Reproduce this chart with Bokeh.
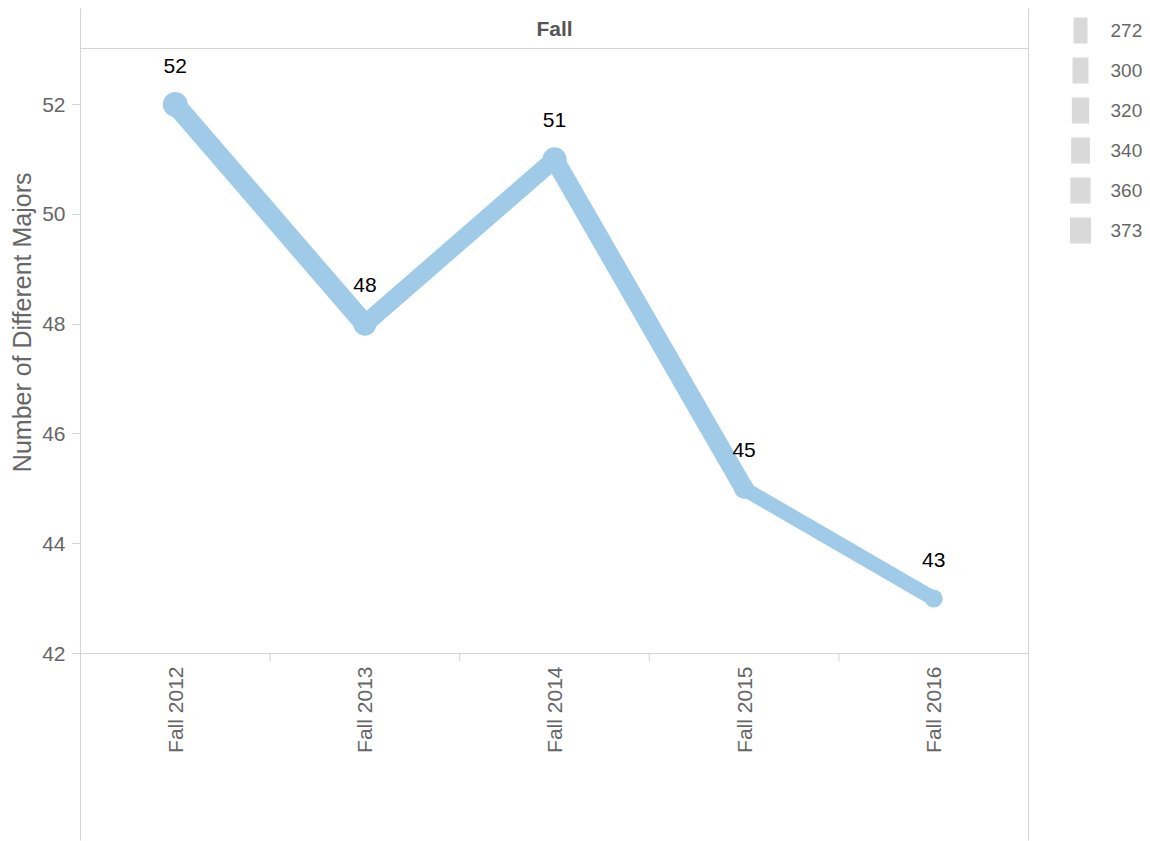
import numpy as np
from bokeh.plotting import figure
from bokeh.models import (Range1d, FixedTicker, LinearAxis, Span, ColumnDataSource, Title)
from bokeh.layouts import row
from bokeh.embed import file_html
from bokeh.resources import INLINE
from bokeh.core.properties import value

# ---------------- data ----------------
terms = ["Fall 2012", "Fall 2013", "Fall 2014", "Fall 2015", "Fall 2016"]
majors = [52, 48, 51, 45, 43]
students = [373, 345, 360, 300, 272]
y_ticks = [42, 44, 46, 48, 50, 52]
legend_values = [272, 300, 320, 340, 360, 373]
header = "Fall"
y_title = "Number of Different Majors"

# ---------------- style ----------------
FONT = "Liberation Sans"
BLUE = "#a0cbe8"
RULE = "#d4d4d4"
TXT = "#666666"
FS = "21px"

s_lo, s_hi = legend_values[0], legend_values[-1]


def line_w(s):
    return 13 + (s - s_lo) * 7.0 / (s_hi - s_lo)


def legend_w(s):
    return 14 + (s - s_lo) * 7.0 / (s_hi - s_lo)


xs = [i + 0.5 for i in range(len(terms))]
bounds = [i for i in range(1, len(terms))]

# vertical layout (pixels): pane top 8, header rule 48, axis 653, pane bottom 840
PX_PER_UNIT = 54.9
y_base = y_ticks[0]
y_hi = y_base + (653 - 8) / PX_PER_UNIT
y_lo = y_base - (840 - 653) / PX_PER_UNIT

W_MAIN = 1044
H_MAIN = 841
p = figure(width=W_MAIN, height=H_MAIN,
           x_range=Range1d(0, len(terms)), y_range=Range1d(y_lo, y_hi),
           output_backend="svg", toolbar_location=None,
           x_axis_type=None, y_axis_type=None,
           min_border_left=80, min_border_right=W_MAIN - 1028,
           min_border_top=8, min_border_bottom=H_MAIN - 840)
p.outline_line_color = None
p.background_fill_color = "white"
p.border_fill_color = "white"

# y axis (its line runs the full pane height)
yax = LinearAxis(ticker=FixedTicker(ticks=y_ticks))
yax.axis_line_color = RULE
yax.major_tick_line_color = RULE
yax.major_tick_out = 8
yax.major_tick_in = 0
yax.minor_tick_line_color = None
yax.major_label_text_font = FONT
yax.major_label_text_font_size = FS
yax.major_label_text_color = TXT
yax.major_label_standoff = 7
p.add_layout(yax, "left")

# y axis title, anchored so it is centred on the value pane
ytitle = Title(text=y_title, align="right", offset=164,
               text_font=FONT, text_font_size="25px", text_font_style="normal",
               text_color=TXT, standoff=8)
p.add_layout(ytitle, "left")

# x axis labels, lifted up to sit just under the value axis baseline
xax = LinearAxis(ticker=FixedTicker(ticks=xs))
xax.major_label_overrides = {x: t for x, t in zip(xs, terms)}
xax.major_label_orientation = np.pi / 2
xax.axis_line_color = None
xax.major_tick_out = 0
xax.major_tick_in = 0
xax.major_tick_line_color = None
xax.minor_tick_line_color = None
xax.major_label_text_font = FONT
xax.major_label_text_font_size = FS
xax.major_label_text_color = TXT
xax.major_label_standoff = 666 - 840
p.add_layout(xax, "below")

# right border
rax = LinearAxis(ticker=FixedTicker(ticks=[]))
rax.axis_line_color = RULE
rax.major_tick_out = 0
rax.minor_tick_out = 0
rax.major_label_text_font_size = "0px"
p.add_layout(rax, "right")

# baseline rule and category boundary ticks
p.add_layout(Span(location=y_base, dimension="width", line_color=RULE, line_width=1))
p.segment(x0=bounds, x1=bounds, y0=[y_base] * len(bounds),
          y1=[y_base - 8 / PX_PER_UNIT] * len(bounds), line_color=RULE, line_width=1)

# header row
p.add_layout(Span(location=y_base + (653 - 48) / PX_PER_UNIT, dimension="width",
                  line_color=RULE, line_width=1))
p.text(x=[len(terms) / 2], y=[y_base + (653 - 28) / PX_PER_UNIT], text=[header],
       text_align="center", text_baseline="middle", text_font=value(FONT),
       text_font_size=FS, text_font_style="bold", text_color="#555555")

# line segments with size-encoded widths
seg = ColumnDataSource(dict(x0=xs[:-1], x1=xs[1:], y0=majors[:-1], y1=majors[1:],
                            w=[line_w(s) for s in students[:-1]]))
p.segment(x0="x0", y0="y0", x1="x1", y1="y1", line_width="w", line_color=BLUE,
          line_cap="round", source=seg)
p.scatter(x=xs, y=majors, size=[line_w(s) + 5 for s in students],
          fill_color=BLUE, line_color=None)

p.text(x=xs, y=majors, text=[str(m) for m in majors], text_align="center",
       text_baseline="middle", y_offset=-39, text_font=value(FONT),
       text_font_size=FS, text_color="#000000")

# ---------------- size legend ----------------
labels = [str(v) for v in legend_values]
LW, LH = 1150 - W_MAIN, 260
leg_rows = [22 + 40 * i for i in range(len(labels))]
leg = figure(frame_width=LW, frame_height=LH, x_range=Range1d(0, LW),
             y_range=Range1d(LH, 0),
             output_backend="svg", toolbar_location=None,
             x_axis_type=None, y_axis_type=None,
             min_border_left=0, min_border_right=0, min_border_bottom=0,
             min_border_top=0)
leg.outline_line_color = None
leg.rect(x=[36] * len(labels), y=leg_rows, width=[legend_w(v) for v in legend_values],
         height=26, width_units="screen", height_units="screen",
         fill_color="#d9d9d9", line_color=None)
leg.text(x=[66] * len(labels), y=leg_rows, text=labels, text_align="left",
         text_baseline="middle", text_font=value(FONT), text_font_size="19px",
         text_color=TXT)

layout = row(p, leg)
open("out.html", "w").write(file_html(layout, INLINE))
